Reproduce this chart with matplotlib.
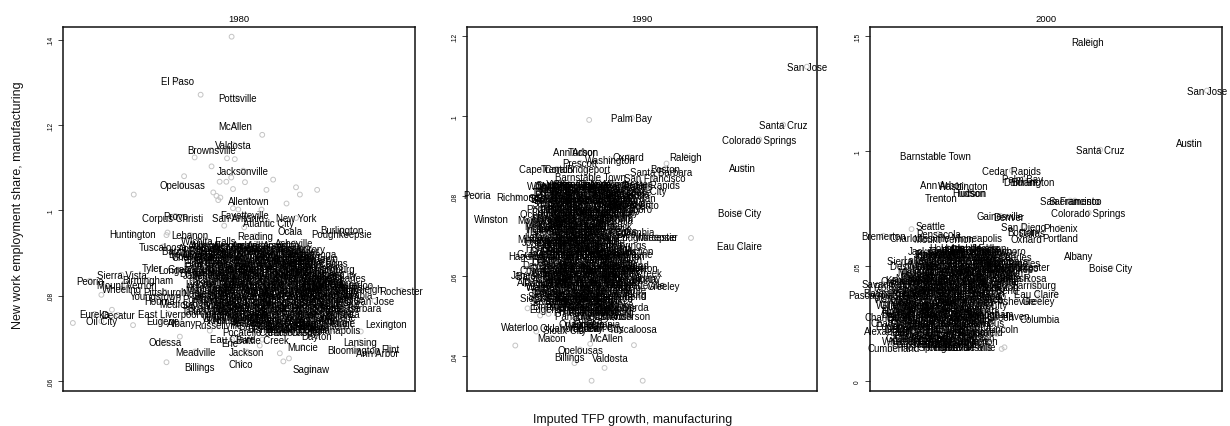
import matplotlib
matplotlib.use("Agg")
import matplotlib.pyplot as plt

plt.rcParams['font.family'] = ['Liberation Sans', 'DejaVu Sans']

# ---------------------------------------------------------------------------
# Data: x = imputed TFP growth (index, 0-100 within each year),
#       y = new work employment share in manufacturing
# ---------------------------------------------------------------------------
years = ["1980", "1990", "2000"]

# clearly labelled metros: (name, tfp index, new work share)
named_1980 = [
    ("El Paso", 32.4, .1304), ("Pottsville", 49.5, .1263), ("McAllen", 49.0, .1198),
    ("Valdosta", 48.5, .1154), ("Brownsville", 42.1, .1141), ("Jacksonville", 51.2, .1093),
    ("Opelousas", 33.8, .1060), ("Allentown", 52.8, .1023), ("Corpus Christi", 31.0, .0982),
    ("Provo", 31.9, .0987), ("Fayetteville", 51.7, .0990), ("San Antonio", 49.8, .0982),
    ("Atlantic City", 58.3, .0970), ("New York", 66.2, .0982), ("Ocala", 64.6, .0952),
    ("Burlington", 79.3, .0953), ("Poughkeepsie", 79.2, .0945), ("Huntington", 19.9, .0945),
    ("Lebanon", 36.1, .0942), ("Reading", 54.6, .0939), ("Asheville", 65.8, .0923),
    ("Hickory", 69.9, .0910), ("Tuscaloosa", 28.4, .0915), ("Wichita Falls", 41.2, .0927),
    ("Barnstable Town", 68.0, .0889), ("Pensacola", 66.8, .0882), ("Victoria", 35.1, .0894),
    ("Altoona", 38.4, .0895), ("Tyler", 25.2, .0864), ("Longview", 32.7, .0861),
    ("Bryan", 36.5, .0853), ("San Luis Obispo", 69.9, .0850), ("Sierra Vista", 16.6, .0849),
    ("Peoria", 7.6, .0835), ("Birmingham", 24.2, .0837), ("Mount Vernon", 18.0, .0825),
    ("Wheeling", 16.7, .0816), ("Springfield", 73.0, .0834), ("Charleston", 74.4, .0823),
    ("Waterloo", 82.8, .0826), ("Raleigh", 86.3, .0816), ("Rochester", 96.2, .0812),
    ("Columbia", 82.3, .0802), ("San Jose", 88.5, .0788), ("Santa Barbara", 81.5, .0770),
    ("Pittsburgh", 28.9, .0809), ("Youngstown", 26.5, .0800), ("Houma", 27.5, .0788),
    ("Medford", 32.4, .0780), ("Eureka", 9.0, .0757), ("Decatur", 15.6, .0755),
    ("Oil City", 10.9, .0740), ("East Liverpool", 30.0, .0758), ("Eugene", 28.4, .0741),
    ("Albany", 33.6, .0735), ("Akron", 43.2, .0743), ("Russellville", 44.2, .0732),
    ("Lexington", 91.9, .0734), ("Detroit", 78.2, .0735), ("Indianapolis", 77.3, .0720),
    ("Cleveland", 68.7, .0726), ("Pocatello", 50.9, .0716), ("Dayton", 72.0, .0705),
    ("Eau Claire", 48.0, .0698), ("Battle Creek", 56.6, .0697), ("Erie", 47.5, .0689),
    ("Muncie", 68.0, .0680), ("Lansing", 84.4, .0691), ("Bloomington", 82.6, .0673),
    ("Flint", 93.0, .0675), ("Ann Arbor", 89.2, .0665), ("Odessa", 29.0, .0691),
    ("Meadville", 37.5, .0669), ("Jackson", 52.2, .0669), ("Chico", 50.5, .0641),
    ("Billings", 38.9, .0634), ("Saginaw", 70.5, .0627),
]
bare_1980_x = [47.9, 39.1, 56.6, 37.4, 46.6, 48.8, 42.2, 34.4, 59.7, 44.5, 46.4, 51.7,
               47.8, 48.3, 57.8, 66.2, 72.2, 67.3, 20.1, 42.7, 43.6, 44.7, 44.1, 63.5,
               48.3, 49.8, 56.4, 45.8, 51.5, 29.7, 29.4, 2.8, 10.9, 13.9, 19.9, 33.2,
               29.4, 61.6, 62.6, 64.2, 84.6, 77.7, 41.7, 55.9]
bare_1980_y = [.1407, .1271, .1177, .1124, .1122, .1120, .1103, .1080, .1072, .1067, .1067, .1066,
               .1077, .1050, .1048, .1054, .1048, .1037, .1037, .1042, .1034, .1030, .1024, .1016,
               .1005, .1002, .1002, .0964, .0960, .0948, .0942, .0736, .0802, .0767, .0731, .0704,
               .0644, .0665, .0646, .0653, .0716, .0848, .0718, .0683]
# crowded core: rows of (new work share, [tfp index, ...])
dense_1980 = [
    (.0918, [40, 44, 49, 53, 58, 62]),
    (.0911, [38, 42, 47, 51, 56, 60, 65]),
    (.0904, [36, 41, 45, 50, 54, 59, 63, 68]),
    (.0897, [39, 43, 48, 52, 57, 61, 66, 70]),
    (.0890, [37, 42, 46, 51, 55, 60, 64, 69]),
    (.0883, [40, 44, 49, 53, 58, 62, 67, 71]),
    (.0876, [38, 43, 47, 52, 56, 61, 65, 70, 74]),
    (.0869, [41, 45, 50, 54, 59, 63, 68, 72]),
    (.0862, [39, 44, 48, 53, 57, 62, 66, 71, 75]),
    (.0855, [42, 46, 51, 55, 60, 64, 69, 73]),
    (.0848, [40, 45, 49, 54, 58, 63, 67, 72, 76]),
    (.0841, [43, 47, 52, 56, 61, 65, 70, 74, 78]),
    (.0834, [41, 46, 50, 55, 59, 64, 68, 73, 77]),
    (.0827, [39, 44, 48, 53, 57, 62, 66, 71, 75, 79]),
    (.0820, [42, 47, 51, 56, 60, 65, 69, 74, 78]),
    (.0813, [40, 45, 49, 54, 58, 63, 67, 72, 76, 80]),
    (.0806, [38, 43, 48, 52, 57, 61, 66, 70, 75, 79]),
    (.0799, [41, 46, 50, 55, 59, 64, 68, 73, 77]),
    (.0792, [39, 44, 49, 53, 58, 62, 67, 71, 76, 80]),
    (.0785, [42, 47, 51, 56, 60, 65, 69, 74, 78]),
    (.0778, [40, 45, 50, 54, 59, 63, 68, 72, 77]),
    (.0771, [43, 48, 52, 57, 61, 66, 70, 75, 79]),
    (.0764, [41, 46, 51, 55, 60, 64, 69, 73, 78]),
    (.0757, [44, 49, 53, 58, 62, 67, 71, 76, 80]),
    (.0750, [47, 52, 56, 61, 65, 70, 74, 79]),
    (.0743, [50, 54, 59, 63, 68, 72, 77]),
    (.0736, [52, 57, 61, 66, 70, 75]),
    (.0729, [55, 60, 64, 69, 73]),
    (.0722, [58, 62, 67, 71]),
    (.0715, [60, 65, 69]),
]

named_1990 = [
    ("San Jose", 97.1, .1124), ("Palm Bay", 47.1, .0996), ("Santa Cruz", 90.3, .0979),
    ("Colorado Springs", 83.5, .0942), ("Raleigh", 62.5, .0899), ("Ann Arbor", 30.6, .0912),
    ("Tucson", 33.1, .0912), ("Washington", 40.9, .0892), ("Oxnard", 46.1, .0898),
    ("Prescott", 32.3, .0884), ("Cape Coral", 21.7, .0869), ("Trenton", 25.7, .0869),
    ("Bridgeport", 34.7, .0869), ("Boston", 56.6, .0869), ("Santa Barbara", 55.6, .0862),
    ("Austin", 78.7, .0872), ("Barnstable Town", 35.2, .0848), ("San Francisco", 53.7, .0846),
    ("State College", 32.8, .0832), ("Cedar Rapids", 52.3, .0829), ("Seattle", 23.8, .0828),
    ("Charlottesville", 28.0, .0826), ("Salt Lake City", 48.5, .0814), ("Bremerton", 25.7, .0810),
    ("Peoria", 2.9, .0803), ("Richmond", 14.4, .0798), ("Bloomington", 25.7, .0793),
    ("Santa Rosa", 45.0, .0806), ("Sacramento", 47.5, .0779), ("Denver", 44.5, .0781),
    ("Boise City", 77.9, .0759), ("Winston", 7.1, .0743), ("Muncie", 22.8, .0745),
    ("Durham", 42.8, .0745), ("Indianapolis", 23.8, .0718), ("Columbia", 48.0, .0710),
    ("Poughkeepsie", 51.3, .0698), ("Worcester", 54.2, .0698), ("Milwaukee", 20.9, .0693),
    ("Eau Claire", 77.9, .0675), ("Hagerstown", 19.0, .0652), ("Harrisburg", 42.0, .0662),
    ("Pensacola", 44.0, .0627), ("Janesville", 18.5, .0604), ("Albany", 51.3, .0595),
    ("Racine", 20.4, .0583), ("Fayetteville", 49.5, .0578), ("Greeley", 56.1, .0577),
    ("Decatur", 23.8, .0564), ("Lynchburg", 45.0, .0556), ("Birmingham", 26.0, .0527),
    ("Eugene", 22.5, .0519), ("Knoxville", 43.0, .0520), ("Anderson", 46.6, .0502),
    ("Eureka", 34.4, .0492), ("Waterloo", 15.2, .0474), ("Wenatchee", 35.0, .0475),
    ("Tuscaloosa", 47.5, .0468), ("Sioux City", 28.0, .0465), ("McAllen", 39.9, .0447),
    ("Macon", 24.2, .0446), ("Opelousas", 32.3, .0417), ("Billings", 29.3, .0399),
    ("Valdosta", 40.9, .0396),
]
bare_1990_x = [34.9, 57.0, 64.0, 42.0, 17.3, 20.9, 23.3, 13.8, 19.8, 35.2, 47.7, 30.7, 39.3, 35.6, 50.2]
bare_1990_y = [.0991, .0882, .0696, .0685, .0520, .0502, .0506, .0427, .0462, .0431, .0428, .0383,
               .0371, .0339, .0339]
dense_1990 = [
    (.0832, [26, 30, 34, 38, 42, 46]),
    (.0825, [24, 28, 32, 36, 40, 44, 48]),
    (.0818, [25, 29, 33, 37, 41, 45]),
    (.0811, [23, 27, 31, 35, 39, 43, 47]),
    (.0804, [25, 29, 33, 37, 41, 45]),
    (.0797, [23, 27, 31, 35, 39, 43, 47]),
    (.0790, [25, 29, 33, 37, 41, 45]),
    (.0783, [23, 27, 31, 35, 39, 43, 47]),
    (.0776, [24, 28, 32, 36, 40, 44]),
    (.0769, [22, 26, 30, 34, 38, 42, 46]),
    (.0762, [24, 28, 32, 36, 40, 44]),
    (.0755, [22, 26, 30, 34, 38, 42]),
    (.0748, [24, 28, 32, 36, 40]),
    (.0741, [22, 26, 30, 34, 38, 42]),
    (.0734, [24, 28, 32, 36, 40]),
    (.0727, [22, 26, 30, 34, 38, 42]),
    (.0720, [24, 28, 32, 36, 40]),
    (.0713, [22, 26, 30, 34, 38, 42]),
    (.0706, [24, 28, 32, 36, 40]),
    (.0699, [22, 26, 30, 34, 38, 42]),
    (.0692, [24, 28, 32, 36, 40]),
    (.0685, [22, 26, 30, 34, 38]),
    (.0678, [24, 28, 32, 36, 40, 44]),
    (.0671, [22, 26, 30, 34, 38, 42]),
    (.0664, [24, 28, 32, 36, 40, 44]),
    (.0657, [22, 26, 30, 34, 38, 42, 46]),
    (.0650, [24, 28, 32, 36, 40, 44]),
    (.0643, [22, 26, 30, 34, 38, 42, 46]),
    (.0636, [24, 28, 32, 36, 40, 44]),
    (.0629, [22, 26, 30, 34, 38, 42, 46]),
    (.0622, [24, 28, 32, 36, 40, 44, 48]),
    (.0615, [22, 26, 30, 34, 38, 42, 46]),
    (.0608, [24, 28, 32, 36, 40, 44, 48]),
    (.0601, [22, 26, 30, 34, 38, 42, 46]),
    (.0594, [24, 28, 32, 36, 40, 44, 48]),
    (.0587, [22, 26, 30, 34, 38, 42, 46]),
    (.0580, [24, 28, 32, 36, 40, 44]),
    (.0573, [22, 26, 30, 34, 38, 42, 46]),
    (.0566, [24, 28, 32, 36, 40, 44]),
    (.0559, [22, 26, 30, 34, 38, 42]),
    (.0552, [24, 28, 32, 36, 40, 44]),
    (.0545, [22, 26, 30, 34, 38, 42]),
    (.0538, [24, 28, 32, 36, 40]),
    (.0531, [26, 30, 34, 38, 42]),
    (.0524, [28, 32, 36, 40, 44]),
    (.0517, [30, 34, 38, 42]),
    (.0510, [32, 36, 40]),
    (.0500, [33, 38, 42]),
    (.0480, [31, 35, 39]),
    (.0470, [30, 34, 38]),
]

named_2000 = [
    ("Raleigh", 61.8, .1477), ("San Jose", 95.7, .1264), ("Austin", 90.8, .1036),
    ("Santa Cruz", 65.4, .1007), ("Barnstable Town", 18.7, .0981), ("Cedar Rapids", 40.3, .0916),
    ("Palm Bay", 43.4, .0880), ("Burlington", 46.4, .0868), ("Durham", 42.8, .0866),
    ("Ann Arbor", 20.4, .0855), ("Washington", 26.5, .0851), ("Tucson", 28.9, .0817),
    ("Hudson", 28.0, .0821), ("Trenton", 20.3, .0797), ("San Francisco", 56.9, .0786),
    ("Sacramento", 58.2, .0786), ("Colorado Springs", 62.1, .0733), ("Gainesville", 37.0, .0720),
    ("Denver", 39.3, .0716), ("San Diego", 43.6, .0672), ("Phoenix", 54.0, .0668),
    ("Seattle", 17.1, .0677), ("Boston", 43.1, .0648), ("Dallas", 46.0, .0645),
    ("Pensacola", 19.4, .0641), ("Portland", 54.0, .0625), ("Oxnard", 44.4, .0617),
    ("Bremerton", 3.8, .0633), ("Charlottesville", 14.2, .0622), ("Mount Vernon", 20.9, .0619),
    ("Minneapolis", 30.3, .0622), ("Albany", 59.2, .0546), ("Boise City", 68.4, .0493),
    ("Fort Wayne", 29.9, .0575), ("Philadelphia", 19.9, .0554), ("Worcester", 45.0, .0499),
    ("Santa Barbara", 36.0, .0525), ("San Luis Obispo", 37.9, .0491), ("Sierra Vista", 11.8, .0525),
    ("Des Moines", 12.8, .0503), ("Holland", 13.3, .0467), ("Santa Rosa", 43.1, .0448),
    ("Harrisburg", 46.4, .0420), ("Savannah", 3.8, .0423), ("Kennewick", 10.9, .0441),
    ("Eau Claire", 47.4, .0380), ("Pascagoula", 1.0, .0377), ("Baton Rouge", 6.2, .0384),
    ("Asheville", 41.7, .0351), ("Greeley", 47.9, .0351), ("Waterloo", 6.6, .0358),
    ("Grand Rapids", 11.4, .0332), ("Houma", 7.6, .0307), ("New Haven", 38.4, .0286),
    ("Columbia", 48.3, .0271), ("Lincoln", 37.9, .0228), ("Charleston", 5.2, .0278),
    ("Eugene", 6.2, .0242), ("Alexandria", 4.7, .0217), ("Springfield", 31.3, .0213),
    ("Wheeling", 9.0, .0177), ("Lexington", 30.3, .0177), ("Cumberland", 6.6, .0145),
    ("Evansville", 29.4, .0148),
]
bare_2000_x = [38.2, 37.4, 52.6, 11.8, 36.0]
bare_2000_y = [.0148, .0141, .0380, .0662, .0206]
dense_2000 = [
    (.0580, [22, 26, 30, 34]),
    (.0567, [18, 22, 26, 30, 34, 38]),
    (.0554, [16, 20, 24, 28, 32, 36]),
    (.0541, [18, 22, 26, 30, 34, 38]),
    (.0528, [15, 19, 23, 27, 31, 35]),
    (.0515, [17, 21, 25, 29, 33, 37, 41]),
    (.0502, [14, 18, 22, 26, 30, 34, 38]),
    (.0489, [16, 20, 24, 28, 32, 36, 40]),
    (.0476, [13, 17, 21, 25, 29, 33, 37]),
    (.0463, [15, 19, 23, 27, 31, 35, 39]),
    (.0450, [12, 16, 20, 24, 28, 32, 36, 40]),
    (.0437, [10, 14, 18, 22, 26, 30, 34, 38]),
    (.0424, [12, 16, 20, 24, 28, 32, 36]),
    (.0411, [9, 13, 17, 21, 25, 29, 33, 37]),
    (.0398, [11, 15, 19, 23, 27, 31, 35]),
    (.0385, [9, 13, 17, 21, 25, 29, 33]),
    (.0372, [11, 15, 19, 23, 27, 31, 35]),
    (.0359, [9, 13, 17, 21, 25, 29, 33]),
    (.0346, [11, 15, 19, 23, 27, 31]),
    (.0333, [9, 13, 17, 21, 25, 29, 33]),
    (.0320, [10, 14, 18, 22, 26, 30]),
    (.0307, [8, 12, 16, 20, 24, 28, 32]),
    (.0294, [10, 14, 18, 22, 26, 30, 34]),
    (.0281, [8, 12, 16, 20, 24, 28, 32]),
    (.0268, [10, 14, 18, 22, 26, 30]),
    (.0255, [8, 12, 16, 20, 24, 28, 32]),
    (.0242, [10, 14, 18, 22, 26, 30]),
    (.0229, [8, 12, 16, 20, 24, 28]),
    (.0216, [10, 14, 18, 22, 26, 30]),
    (.0203, [12, 16, 20, 24, 28]),
    (.0190, [10, 14, 18, 22, 26]),
    (.0177, [13, 17, 21, 25, 29]),
    (.0164, [14, 18, 22, 26]),
    (.0151, [16, 20, 24, 28]),
]

# metro names for the crowded core of each year
metros = [
    "Abilene", "Akron", "Albuquerque", "Alexandria", "Allentown", "Altoona", "Amarillo",
    "Anderson", "Anniston", "Appleton", "Asheville", "Athens", "Atlanta", "Augusta",
    "Bakersfield", "Baltimore", "Bangor", "Baton Rouge", "Battle Creek", "Bay City",
    "Beaumont", "Bellingham", "Bend", "Binghamton", "Birmingham", "Bismarck", "Bloomington",
    "Boulder", "Bowling Green", "Buffalo", "Canton", "Carson City", "Casper", "Champaign",
    "Charleston", "Charlotte", "Chattanooga", "Cheyenne", "Chicago", "Cincinnati",
    "Clarksville", "Cleveland", "Columbus", "Corvallis", "Cumberland", "Dalton", "Danville",
    "Davenport", "Dayton", "Decatur", "Des Moines", "Detroit", "Dothan", "Dover", "Dubuque",
    "Duluth", "Elkhart", "Elmira", "El Centro", "Erie", "Evansville", "Fargo", "Farmington",
    "Flagstaff", "Florence", "Fond du Lac", "Fort Collins", "Fort Smith", "Fort Wayne",
    "Fresno", "Gadsden", "Gainesville", "Glens Falls", "Goldsboro", "Grand Forks",
    "Grand Junction", "Grand Rapids", "Great Falls", "Green Bay", "Greensboro", "Greenville",
    "Gulfport", "Harrisburg", "Harrisonburg", "Hartford", "Hattiesburg", "Holland", "Honolulu",
    "Hot Springs", "Houma", "Houston", "Huntsville", "Idaho Falls", "Jackson", "Jacksonville",
    "Janesville", "Jefferson City", "Johnson City", "Johnstown", "Jonesboro", "Joplin",
    "Kalamazoo", "Kankakee", "Kansas City", "Kennewick", "Killeen", "Kingsport", "Kingston",
    "Knoxville", "Kokomo", "La Crosse", "Lafayette", "Lake Charles", "Lakeland", "Lancaster",
    "Laredo", "Las Cruces", "Las Vegas", "Lawrence", "Lawton", "Lewiston", "Lima", "Lincoln",
    "Little Rock", "Logan", "Longview", "Los Angeles", "Louisville", "Lubbock", "Lynchburg",
    "Macon", "Madera", "Madison", "Manchester", "Mansfield", "Memphis", "Merced", "Miami",
    "Michigan City", "Midland", "Milwaukee", "Minneapolis", "Missoula", "Mobile", "Modesto",
    "Monroe", "Montgomery", "Morgantown", "Morristown", "Muskegon", "Myrtle Beach", "Napa",
    "Naples", "Nashville", "New Haven", "New Orleans", "Niles", "Norwich", "Ocean City",
    "Ogden", "Oklahoma City", "Olympia", "Omaha", "Orlando", "Oshkosh", "Owensboro",
    "Panama City", "Parkersburg", "Pascagoula", "Philadelphia", "Pittsfield", "Portland",
    "Providence", "Pueblo", "Punta Gorda", "Racine", "Rapid City", "Redding", "Reno",
    "Richmond", "Riverside", "Roanoke", "Rockford", "Rocky Mount", "Rome", "Salem", "Salinas",
    "Salisbury", "San Angelo", "Sandusky", "Savannah", "Scranton", "Sebastian", "Sheboygan",
    "Sherman", "Shreveport", "Sioux City", "Sioux Falls", "South Bend", "Spartanburg",
    "Spokane", "St. Cloud", "St. George", "St. Joseph", "St. Louis", "Stockton", "Sumter",
    "Syracuse", "Tallahassee", "Tampa", "Terre Haute", "Texarkana", "Toledo", "Topeka",
    "Tulsa", "Utica", "Vallejo", "Vineland", "Virginia Beach", "Visalia", "Waco",
    "Warner Robins", "Wausau", "Weirton", "Wenatchee", "Wichita", "Williamsport", "Wilmington",
    "Winchester", "Yakima", "York", "Youngstown", "Yuba City", "Yuma",
]

yticks_1980 = [.06, .08, .10, .12, .14]
ylabels_1980 = [".06", ".08", ".1", ".12", ".14"]
yticks_1990 = [.04, .06, .08, .10, .12]
ylabels_1990 = [".04", ".06", ".08", ".1", ".12"]
yticks_2000 = [0, .05, .10, .15]
ylabels_2000 = ["0", ".05", ".1", ".15"]

ylim_1980 = (.05766, .14297)
ylim_1990 = (.03133, .12233)
ylim_2000 = (-.0042, .15406)

LABEL_SIZE = 6.9
CIRCLE = "#c4c4c4"


def draw_panel(ax, title, named, bare_x, bare_y, dense, pool, ylim, yticks, ylabels):
    taken = {n for n, _, _ in named}
    spare = [p for p in pool if p not in taken]
    points = list(named)
    k = 0
    for yv, xs in dense:
        for xv in xs:
            points.append((spare[k % len(spare)], xv, yv))
            k += 1

    xs_all = [p[1] for p in points] + list(bare_x)
    ys_all = [p[2] for p in points] + list(bare_y)
    ax.scatter(xs_all, ys_all, s=12, facecolors="none", edgecolors=CIRCLE,
               linewidths=0.7, zorder=2, clip_on=False)
    for name, xv, yv in points:
        ax.text(xv, yv, name, ha="center", va="center", fontsize=LABEL_SIZE,
                color="#000000", zorder=3, clip_on=False)

    ax.set_xlim(0, 100)
    ax.set_ylim(*ylim)
    ax.set_xticks([])
    ax.set_yticks(yticks)
    ax.set_yticklabels(ylabels, rotation=90, va="center")
    ax.tick_params(axis="y", direction="out", length=3.5, width=0.6,
                   labelsize=4.8, pad=3, color="#222222")
    for sp in ax.spines.values():
        sp.set_linewidth(1.1)
        sp.set_color("#111111")
    ax.set_title(title, fontsize=6.8, pad=4)


fig = plt.figure(figsize=(12.3, 4.27), dpi=100)
bottom = 1 - 392 / 427
height = 364 / 427
ax1 = fig.add_axes([63 / 1230, bottom, 352 / 1230, height])
ax2 = fig.add_axes([467 / 1230, bottom, 350 / 1230, height])
ax3 = fig.add_axes([870 / 1230, bottom, 352 / 1230, height])

draw_panel(ax1, years[0], named_1980, bare_1980_x, bare_1980_y, dense_1980,
           metros, ylim_1980, yticks_1980, ylabels_1980)
draw_panel(ax2, years[1], named_1990, bare_1990_x, bare_1990_y, dense_1990,
           metros[::-1], ylim_1990, yticks_1990, ylabels_1990)
draw_panel(ax3, years[2], named_2000, bare_2000_x, bare_2000_y, dense_2000,
           metros[90:] + metros[:90], ylim_2000, yticks_2000, ylabels_2000)

fig.text(0.0145, 0.52, "New work employment share, manufacturing", rotation=90,
         ha="center", va="center", fontsize=9, color="#111111")
fig.text(0.514, 0.016, "Imputed TFP growth, manufacturing",
         ha="center", va="center", fontsize=9, color="#111111")

fig.savefig("out.png", dpi=100)
